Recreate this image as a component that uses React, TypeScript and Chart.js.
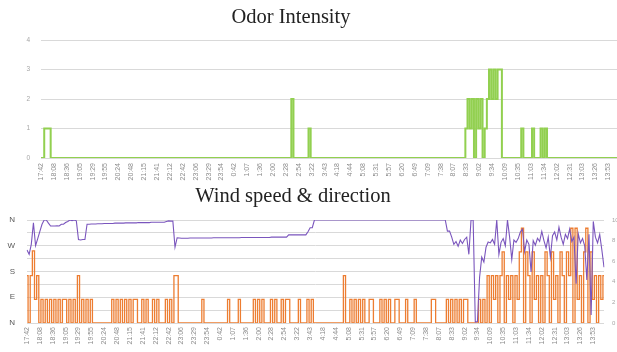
import React, { useEffect, useRef } from 'react';
import { Chart, registerables } from 'chart.js';

Chart.register(...registerables);

// ---------- data ----------
const timeLabels = [
  '17:42', '18:08', '18:36', '19:05', '19:29', '19:55', '20:24', '20:48', '21:15', '21:41',
  '22:12', '22:42', '23:06', '23:29', '23:54', '0:42', '1:07', '1:36', '2:00', '2:28',
  '2:54', '3:22', '3:43', '4:18', '4:44', '5:08', '5:31', '5:57', '6:20', '6:49',
  '7:09', '7:38', '8:07', '8:33', '9:02', '9:34', '10:09', '10:35', '11:03', '11:34',
  '12:02', '12:31', '13:03', '13:26', '13:53',
];
const POINTS_PER_LABEL = 6;

const odorIntensity = [
  0, 0, 1, 1, 1, 0, 0, 0, 0, 0, 0, 0, 0, 0, 0, 0, 0, 0, 0, 0, 0, 0, 0, 0, 0, 0, 0, 0, 0, 0,
  0, 0, 0, 0, 0, 0, 0, 0, 0, 0, 0, 0, 0, 0, 0, 0, 0, 0, 0, 0, 0, 0, 0, 0, 0, 0, 0, 0, 0, 0,
  0, 0, 0, 0, 0, 0, 0, 0, 0, 0, 0, 0, 0, 0, 0, 0, 0, 0, 0, 0, 0, 0, 0, 0, 0, 0, 0, 0, 0, 0,
  0, 0, 0, 0, 0, 0, 0, 0, 0, 0, 0, 0, 0, 0, 0, 0, 0, 0, 0, 0, 0, 0, 0, 0, 0, 0, 0, 2, 0, 0,
  0, 0, 0, 0, 0, 1, 0, 0, 0, 0, 0, 0, 0, 0, 0, 0, 0, 0, 0, 0, 0, 0, 0, 0, 0, 0, 0, 0, 0, 0,
  0, 0, 0, 0, 0, 0, 0, 0, 0, 0, 0, 0, 0, 0, 0, 0, 0, 0, 0, 0, 0, 0, 0, 0, 0, 0, 0, 0, 0, 0,
  0, 0, 0, 0, 0, 0, 0, 0, 0, 0, 0, 0, 0, 0, 0, 0, 0, 0, 1, 2, 1, 2, 0, 2, 1, 2, 0, 1, 2, 3,
  2, 3, 2, 3, 3, 0, 0, 0, 0, 0, 0, 0, 0, 0, 1, 0, 0, 0, 0, 1, 0, 0, 0, 1, 0, 1, 0, 0, 0, 0,
  0, 0, 0, 0, 0, 0, 0, 0, 0, 0, 0, 0, 0, 0, 0, 0, 0, 0, 0, 0, 0, 0, 0, 0, 0, 0, 0, 0, 0, 0,
];

// wind direction in degrees (0 = N, 90 = E, 180 = S, 270 = W, 360 = N)
const windDirection = [
  255, 240, 275, 350, 270, 295, 320, 345, 360, 360, 349, 339, 339, 339, 340, 339, 345, 345, 351, 355, 360, 358, 360, 357, 292, 290, 292, 292, 345, 345,
  346, 346, 346, 347, 347, 347, 348, 348, 348, 348, 348, 349, 349, 349, 349, 349, 350, 350, 350, 350, 350, 350, 351, 351, 351, 351, 351, 351, 352, 352,
  352, 352, 352, 352, 352, 355, 357, 356, 356, 265, 298, 297, 296, 296, 296, 296, 297, 297, 297, 297, 297, 297, 297, 297, 297, 297, 297, 298, 298, 298,
  298, 298, 298, 298, 298, 298, 298, 298, 298, 298, 299, 299, 299, 299, 299, 299, 299, 299, 299, 299, 299, 299, 299, 299, 300, 300, 300, 300, 300, 300,
  300, 300, 308, 308, 308, 308, 308, 308, 308, 308, 308, 319, 333, 333, 360, 360, 360, 360, 360, 360, 360, 360, 360, 360, 360, 360, 360, 360, 360, 360,
  360, 360, 360, 360, 360, 360, 360, 360, 360, 360, 360, 360, 360, 360, 360, 360, 360, 360, 360, 360, 360, 360, 360, 360, 360, 360, 360, 360, 360, 360,
  360, 360, 360, 360, 360, 360, 360, 360, 360, 360, 360, 360, 360, 360, 360, 360, 321, 321, 300, 275, 285, 268, 290, 278, 292, 300, 240, 360, 360, 3,
  5, 160, 230, 213, 265, 283, 280, 292, 275, 360, 240, 282, 295, 270, 360, 300, 222, 290, 282, 295, 318, 328, 250, 290, 275, 178, 288, 272, 296, 285,
  320, 288, 262, 300, 230, 305, 318, 290, 335, 300, 275, 310, 295, 328, 285, 300, 137, 312, 280, 295, 270, 150, 310, 28, 355, 300, 280, 310, 255, 195,
];

// wind speed (right axis)
const windSpeed = [
  4.6, 0, 4.6, 7, 2.3, 4.6, 0, 2.3, 0, 2.3, 0, 2.3, 0, 2.3, 0, 2.3, 0, 2.3, 2.3, 0, 2.3, 0, 2.3, 0, 4.6, 0, 2.3, 0, 2.3, 0,
  2.3, 0, 0, 0, 0, 0, 0, 0, 0, 0, 2.3, 0, 2.3, 0, 2.3, 0, 2.3, 0, 2.3, 0, 2.3, 2.3, 0, 0, 2.3, 0, 2.3, 0, 0, 2.3,
  0, 2.3, 0, 0, 0, 2.3, 0, 2.3, 0, 4.6, 4.6, 0, 0, 0, 0, 0, 0, 0, 0, 0, 0, 0, 2.3, 0, 0, 0, 0, 0, 0, 0,
  0, 0, 0, 0, 2.3, 0, 0, 0, 0, 2.3, 0, 0, 0, 0, 0, 0, 2.3, 0, 2.3, 0, 2.3, 0, 0, 0, 2.3, 0, 2.3, 0, 0, 2.3,
  0, 2.3, 2.3, 0, 0, 0, 0, 2.3, 0, 0, 0, 2.3, 0, 2.3, 0, 0, 0, 0, 0, 0, 0, 0, 0, 0, 0, 0, 0, 0, 4.6, 0,
  0, 2.3, 0, 2.3, 0, 2.3, 0, 2.3, 0, 0, 2.3, 2.3, 0, 0, 0, 2.3, 0, 2.3, 0, 2.3, 0, 0, 2.3, 2.3, 0, 0, 0, 2.3, 0, 0,
  0, 2.3, 0, 0, 0, 0, 0, 0, 0, 2.3, 2.3, 0, 0, 0, 0, 0, 2.3, 0, 2.3, 0, 2.3, 0, 2.3, 0, 2.3, 2.3, 0, 0, 0, 0,
  0, 2.3, 0, 2.3, 0, 4.6, 0, 4.6, 2.3, 4.6, 0, 4.6, 6.9, 0, 4.6, 2.3, 4.6, 0, 4.6, 2.3, 6.9, 9.2, 0, 6.9, 4.6, 0, 6.9, 2.3, 4.6, 0,
  4.6, 0, 6.9, 4.6, 0, 6.9, 2.3, 4.6, 0, 6.9, 4.6, 0, 6.9, 4.6, 9.2, 0, 9.2, 2.3, 4.6, 0, 6.9, 9.2, 0, 6.9, 2.3, 4.6, 0, 4.6, 2.3, 4.6,
];

const directionTickLabels: Record<number, string> = { 0: 'N', 90: 'E', 180: 'S', 270: 'W', 360: 'N' };

const categoryLabels = odorIntensity.map((_, i) =>
  i % POINTS_PER_LABEL === 0 ? (timeLabels[i / POINTS_PER_LABEL] ?? '') : ''
);

const SANS = "'Liberation Sans', Arial, sans-serif";
const GRID = '#d9d9d9';

function xAxis(height: number, padding: number) {
  return {
    type: 'category' as const,
    grid: { display: false, drawTicks: false },
    border: { display: false },
    ticks: {
      autoSkip: false,
      maxRotation: 90,
      minRotation: 90,
      padding,
      font: { size: 7, family: SANS },
      color: '#8c8c8c',
      callback: (_v: any, i: number) => categoryLabels[i],
    },
    afterFit: (s: any) => {
      s.height = height;
      s.paddingLeft = 0;
      s.paddingRight = 0;
    },
  };
}

export default function App() {
  const topRef = useRef<HTMLCanvasElement>(null);
  const botRef = useRef<HTMLCanvasElement>(null);

  useEffect(() => {
    const top = new Chart(topRef.current!, {
      type: 'line',
      data: {
        labels: categoryLabels,
        datasets: [
          {
            data: odorIntensity,
            borderColor: '#92D050',
            borderWidth: 2,
            pointRadius: 0,
            stepped: 'middle',
            fill: false,
          },
        ],
      },
      options: {
        animation: false,
        responsive: false,
        maintainAspectRatio: false,
        layout: { padding: { top: 40, left: 0, right: 0, bottom: 0 } },
        plugins: { legend: { display: false }, tooltip: { enabled: false } },
        scales: {
          x: xAxis(27, 5) as any,
          y: {
            min: 0,
            max: 4,
            ticks: { stepSize: 1, padding: 11, font: { size: 6.5, family: SANS }, color: '#a6a6a6' },
            grid: { color: GRID, drawTicks: false },
            border: { display: false },
            afterFit: (s: any) => {
              s.width = 41;
            },
          },
        },
      },
    });

    const bot = new Chart(botRef.current!, {
      type: 'line',
      data: {
        labels: categoryLabels,
        datasets: [
          {
            data: windDirection,
            yAxisID: 'yDir',
            borderColor: '#7A55BD',
            borderWidth: 1.1,
            pointRadius: 0,
            fill: false,
          },
          {
            data: windSpeed,
            yAxisID: 'ySpeed',
            borderColor: '#ED7D31',
            borderWidth: 1.3,
            pointRadius: 0,
            stepped: 'middle',
            fill: false,
          },
        ],
      },
      options: {
        animation: false,
        responsive: false,
        maintainAspectRatio: false,
        layout: { padding: { top: 35, left: 0, right: 0, bottom: 0 } },
        plugins: { legend: { display: false }, tooltip: { enabled: false } },
        scales: {
          x: xAxis(29, 4) as any,
          yDir: {
            position: 'left',
            min: 0,
            max: 360,
            ticks: {
              stepSize: 45,
              padding: 12,
              font: { size: 8, family: SANS },
              color: '#595959',
              callback: (v: any) => directionTickLabels[v as number] ?? '',
            },
            grid: { color: GRID, drawTicks: false },
            border: { display: false },
            afterFit: (s: any) => {
              s.width = 27;
            },
          },
          ySpeed: {
            position: 'right',
            min: 0,
            max: 10,
            ticks: { stepSize: 2, padding: 8, font: { size: 6, family: SANS }, color: '#a6a6a6' },
            grid: { display: false, drawTicks: false },
            border: { display: false },
            afterFit: (s: any) => {
              s.width = 13;
            },
          },
        },
      },
    });

    return () => {
      top.destroy();
      bot.destroy();
    };
  }, []);

  const titleStyle: React.CSSProperties = {
    position: 'absolute',
    width: 300,
    textAlign: 'center',
    fontFamily: "'Liberation Serif', 'Times New Roman', serif",
    fontSize: 20.5,
    lineHeight: '24px',
    color: '#222',
    whiteSpace: 'nowrap',
  };

  return (
    <div
      style={{
        position: 'fixed',
        top: 0,
        left: 0,
        width: 617,
        height: 352,
        overflow: 'hidden',
        background: '#fff',
      }}
    >
      <canvas
        ref={topRef}
        width={619}
        height={185}
        style={{ position: 'absolute', top: 0, left: 0, width: 619, height: 185, display: 'block' }}
      />
      <canvas
        ref={botRef}
        width={617}
        height={167}
        style={{ position: 'absolute', top: 185, left: 0, width: 617, height: 167, display: 'block' }}
      />
      <div style={{ ...titleStyle, left: 291 - 150, top: 4 }}>Odor Intensity</div>
      <div style={{ ...titleStyle, left: 293 - 150, top: 183 }}>Wind speed &amp; direction</div>
    </div>
  );
}
